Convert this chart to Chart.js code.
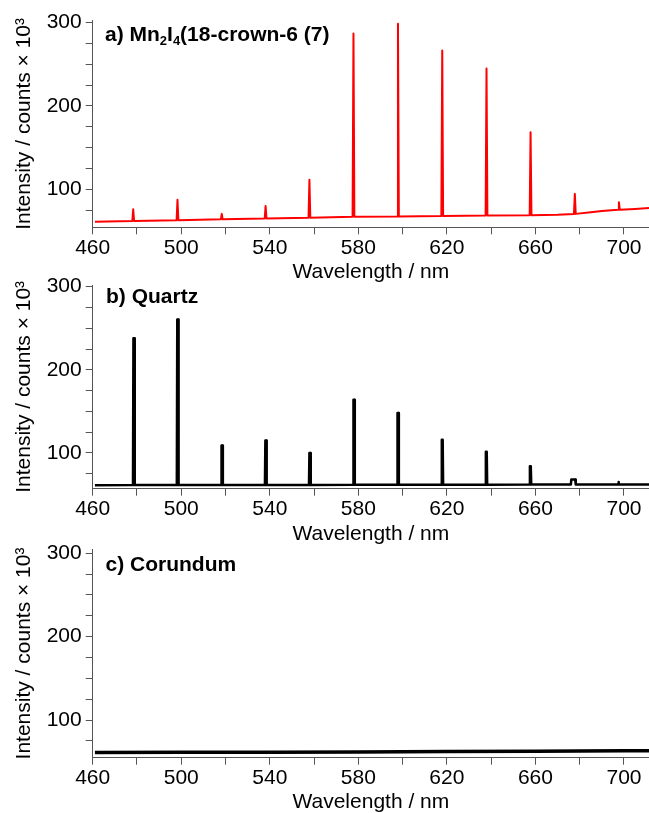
<!DOCTYPE html>
<html>
<head>
<meta charset="utf-8">
<script src="https://cdn.jsdelivr.net/npm/chart.js@4.4.1/dist/chart.umd.min.js"></script>
<style>
  html, body { margin: 0; padding: 0; background: #fff; }
  #wrap { position: relative; width: 649px; height: 813px; overflow: hidden; }
  canvas { position: absolute; left: 0; }
</style>
</head>
<body>
<div id="wrap">
  <canvas id="chartA" width="649" height="283" style="top:0px"></canvas>
  <canvas id="chartB" width="649" height="280" style="top:265px"></canvas>
  <canvas id="chartC" width="649" height="283" style="top:530px"></canvas>
</div>
<script>
// Axis ticks (minor ticks get an empty label)
const xTicks = [460, 480, 500, 520, 540, 560, 580, 600, 620, 640, 660, 680, 700];
const xLabels = ['460', '', '500', '', '540', '', '580', '', '620', '', '660', '', '700'];
const yTicks = [75, 100, 125, 150, 175, 200, 225, 250, 275, 300];
const yLabels = ['', '100', '', '', '', '200', '', '', '', '300'];
const xMin = 460;
const xMax = 711.3;

// a) Mn2I4(18-crown-6 (7)
const waveA = [461, 477.9, 478.3, 478.7, 497.9, 498.3, 498.7, 517.9, 518.3, 518.7, 537.7, 538.1, 538.5,
  557.5, 557.9, 558.3, 577.4, 577.8, 578.2, 597.5, 597.9, 598.3, 617.5, 617.9, 618.3, 637.5, 637.9, 638.3,
  657.4, 657.8, 658.2, 670, 677.4, 677.8, 678.2, 685, 690, 697.3, 697.7, 698.1, 705, 711.3];
const intensityA = [61, 62, 76, 62, 63, 87.5, 63, 64, 70.5, 64, 65, 80, 65,
  66, 111.5, 66, 67, 287, 67, 67.5, 298.5, 67.5, 68, 266.5, 68, 68.5, 245, 68.5,
  69, 168.5, 69, 69.5, 70.5, 94.5, 70.5, 72.5, 74, 75.5, 84.5, 75.5, 76.5, 77.5];

// b) Quartz
const waveB = [461, 478.2, 478.4, 478.8, 479.0, 498.0, 498.2, 498.6, 498.8, 518.0, 518.2, 518.6, 518.8,
  537.8, 538.0, 538.4, 538.6, 557.7, 557.9, 558.3, 558.5, 577.6, 577.8, 578.2, 578.4,
  597.5, 597.7, 598.1, 598.3, 617.5, 617.7, 618.1, 618.3, 637.4, 637.6, 638.0, 638.2,
  657.3, 657.5, 657.9, 658.1, 676.0, 676.2, 678.0, 678.2, 697.3, 697.5, 697.7, 711.3];
const intensityB = [61.2, 61.5, 238, 238, 61.5, 61.5, 260.5, 260.5, 61.5, 61.5, 109, 109, 61.5,
  61.5, 115, 115, 61.5, 61.5, 100, 100, 61.5, 61.8, 164, 164, 61.8,
  61.8, 148, 148, 61.8, 61.8, 116, 116, 61.8, 61.8, 101.5, 101.5, 61.8,
  62, 84, 84, 62, 62, 68, 68, 62, 62, 65, 62, 62];

// c) Corundum
const waveC = [461, 500, 540, 580, 620, 660, 700, 711.3];
const intensityC = [61, 61.2, 61.4, 61.6, 62.2, 62.6, 63, 63];

const axisColor = '#555';
const fontFamily = "'Liberation Sans', Arial, sans-serif";

Chart.defaults.color = '#000';
Chart.defaults.font.family = fontFamily;

function toPoints(xs, ys) {
  return xs.map((x, i) => ({ x: x, y: ys[i] }));
}

// draws the bold panel label, parts flagged sub are subscripts
const panelLabel = {
  id: 'panelLabel',
  afterDatasetsDraw(chart, args, opts) {
    const ctx = chart.ctx;
    let x = opts.x;
    ctx.save();
    ctx.fillStyle = '#000';
    ctx.textBaseline = 'alphabetic';
    opts.parts.forEach(p => {
      ctx.font = p.sub ? `bold 13px ${fontFamily}` : `bold 21px ${fontFamily}`;
      const y = p.sub ? opts.y + 4 : opts.y;
      ctx.fillText(p.text, x, y);
      x += ctx.measureText(p.text).width;
    });
    ctx.restore();
  }
};

function makeChart(id, cfg) {
  const ctx = document.getElementById(id).getContext('2d');
  return new Chart(ctx, {
    type: 'line',
    data: {
      datasets: [{
        data: toPoints(cfg.wave, cfg.intensity),
        borderColor: cfg.color,
        borderWidth: cfg.lineWidth,
        borderJoinStyle: 'round',
        pointRadius: 0,
        tension: 0,
        fill: false
      }]
    },
    plugins: [panelLabel],
    options: {
      responsive: false,
      animation: false,
      devicePixelRatio: 1,
      layout: { padding: { top: cfg.padTop, left: 0, right: 0, bottom: 0 } },
      plugins: {
        legend: { display: false },
        tooltip: { enabled: false },
        panelLabel: { x: cfg.labelX, y: cfg.labelY, parts: cfg.label }
      },
      scales: {
        x: {
          type: 'linear',
          bounds: 'data',
          min: xMin,
          max: xMax,
          afterBuildTicks: s => { s.ticks = xTicks.map(v => ({ value: v })); },
          afterFit: s => { s.height = cfg.xAxisHeight; },
          ticks: {
            autoSkip: false,
            maxRotation: 0,
            padding: 1,
            font: { size: 21 },
            callback: (v, i) => xLabels[i]
          },
          grid: { drawOnChartArea: false, tickLength: 7, color: axisColor },
          border: { color: axisColor, width: 1 },
          title: {
            display: true,
            text: 'Wavelength / nm',
            font: { size: 21, lineHeight: 1 },
            padding: 0
          }
        },
        y: {
          type: 'linear',
          bounds: 'data',
          min: cfg.yMin,
          max: cfg.yMax,
          afterBuildTicks: s => { s.ticks = yTicks.map(v => ({ value: v })); },
          afterFit: s => { s.width = 92.7; },
          ticks: {
            autoSkip: false,
            padding: 4,
            font: { size: 21 },
            callback: (v, i) => yLabels[i]
          },
          grid: { drawOnChartArea: false, tickLength: 7, color: axisColor },
          border: { color: axisColor, width: 1 },
          title: {
            display: true,
            text: 'Intensity / counts × 10³',
            font: { size: 21, lineHeight: 1.2 },
            padding: { top: 12, bottom: 0 }
          }
        }
      }
    }
  });
}

makeChart('chartA', {
  wave: waveA, intensity: intensityA, color: '#ff0000', lineWidth: 2,
  yMin: 54.4, yMax: 302.5, padTop: 20.5, xAxisHeight: 55.7,
  labelX: 105, labelY: 41,
  label: [
    { text: 'a) Mn' }, { text: '2', sub: true }, { text: 'I' },
    { text: '4', sub: true }, { text: '(18-crown-6 (7)' }
  ]
});

makeChart('chartB', {
  wave: waveB, intensity: intensityB, color: '#000', lineWidth: 2.5,
  yMin: 57, yMax: 302, padTop: 20, xAxisHeight: 56.3,
  labelX: 106, labelY: 38.3,
  label: [{ text: 'b) Quartz' }]
});

makeChart('chartC', {
  wave: waveC, intensity: intensityC, color: '#000', lineWidth: 3.5,
  yMin: 54.8, yMax: 304.8, padTop: 19.3, xAxisHeight: 55.3,
  labelX: 105.5, labelY: 40.7,
  label: [{ text: 'c) Corundum' }]
});
</script>
</body>
</html>
